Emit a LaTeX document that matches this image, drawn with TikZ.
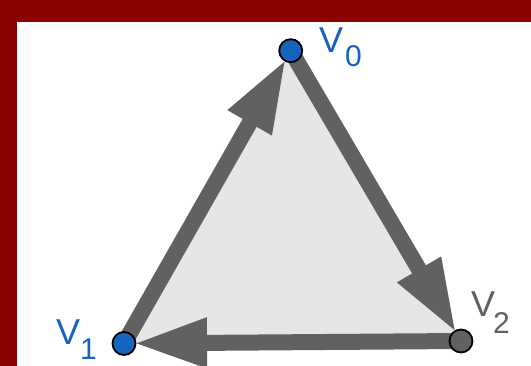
\documentclass[tikz,border=0pt]{standalone}
\usepackage{fontspec}
\setmainfont{Liberation Sans}
\usetikzlibrary{arrows.meta}
\definecolor{framered}{HTML}{8B0000}
\definecolor{facegray}{HTML}{E6E6E6}
\definecolor{edgegray}{HTML}{616161}
\definecolor{ptblue}{HTML}{1565C0}
\tikzset{
  edge/.style={draw=edgegray, line width=16pt,
    -{Triangle[length=74pt,width=46pt]}, shorten >=9pt},
  pt/.style={circle, draw=black, line width=1.8pt, minimum size=23pt, inner sep=0pt},
  lblV/.style={anchor=base west, inner sep=0pt, font=\fontsize{36}{36}\selectfont},
  lblS/.style={anchor=base west, inner sep=0pt, font=\fontsize{30}{30}\selectfont},
}
\begin{document}
\begin{tikzpicture}[x=1pt,y=-1pt]
\useasboundingbox (0,0) rectangle (531,366);
\fill[white] (0,0) rectangle (531,366);
\fill[framered] (0,0) rectangle (531,22);
\fill[framered] (0,0) rectangle (17,366);
\coordinate (c0) at (290.7,50.7);
\coordinate (c1) at (124,343.5);
\coordinate (c2) at (461,341);
\fill[facegray] (c0) -- (c1) -- (c2) -- cycle;
\draw[edge] (c1) -- (c0);
\draw[edge] (c0) -- (c2);
\draw[edge] (c2) -- (c1);
\node[pt, fill=ptblue] (v0) at (c0) {};
\node[pt, fill=ptblue] (v1) at (c1) {};
\node[pt, fill=edgegray] (v2) at (c2) {};
\node[lblV, text=ptblue] (l0v) at (319,53) {V};
\node[lblS, text=ptblue] (l0s) at (345,67) {0};
\node[lblV, text=ptblue] (l1v) at (56,345) {V};
\node[lblS, text=ptblue] (l1s) at (80,360) {1};
\node[lblV, text=edgegray] (l2v) at (471,317) {V};
\node[lblS, text=edgegray] (l2s) at (493,334) {2};
\end{tikzpicture}
\end{document}
